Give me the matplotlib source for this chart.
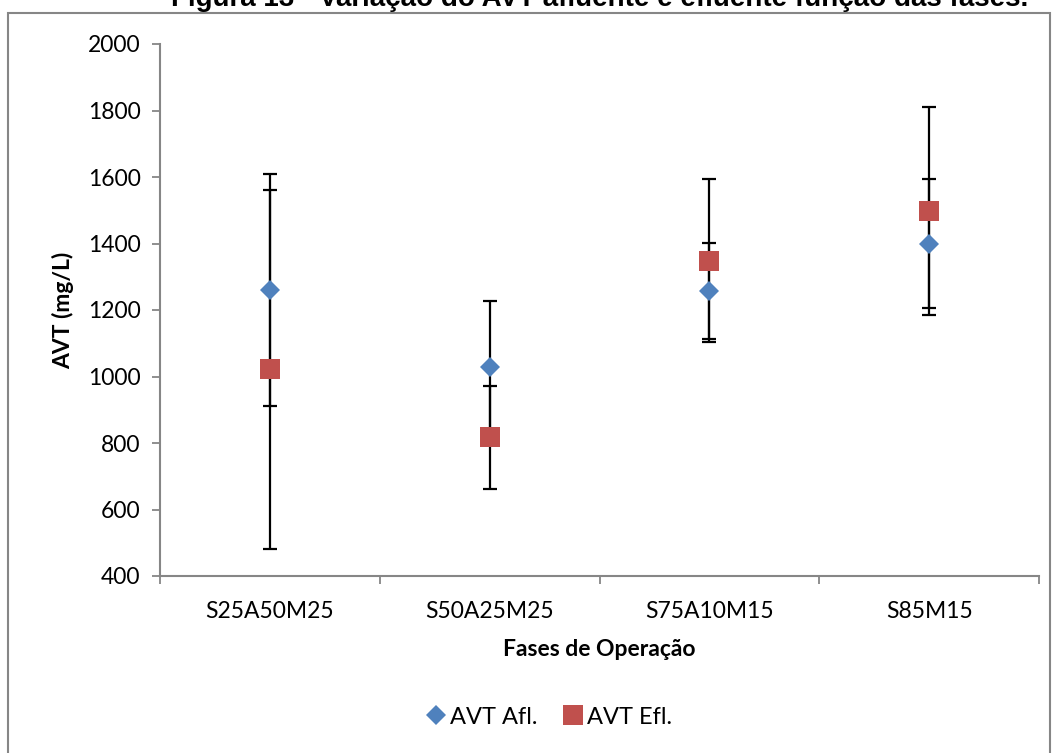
import matplotlib.pyplot as plt
from matplotlib.patches import Rectangle
import numpy as np

fases = ["S25A50M25", "S50A25M25", "S75A10M15", "S85M15"]

avt_afl = [1260, 1030, 1257, 1400]
avt_afl_dp = [350, 198, 145, 195]

avt_efl = [1022, 817, 1348, 1497]
avt_efl_dp = [540, 155, 245, 313]

plt.rcParams['font.family'] = ['Lato', 'DejaVu Sans']

fig = plt.figure(figsize=(10.53, 7.53), dpi=100)
W, H = 1053, 753

# moldura do grafico
fig.patches.append(Rectangle((7.5 / W, -0.05), (1050 - 7.5) / W, 1.05 - 13 / H,
                             transform=fig.transFigure, fill=False,
                             edgecolor='#868686', linewidth=1.5))

fig.text(600 / W, 1 + 1 / H, "Figura 13 - Variação do AVT afluente e efluente função das fases.",
         family='Liberation Sans', fontweight='bold', fontsize=20, ha='center', va='center')

ax = fig.add_axes([160 / W, 177 / H, 879 / W, 532 / H])

x = np.arange(len(fases))

ax.errorbar(x, avt_afl, yerr=avt_afl_dp, fmt='none', ecolor='black',
            elinewidth=1.6, capsize=4.8, capthick=1.6, zorder=2)
ax.errorbar(x, avt_efl, yerr=avt_efl_dp, fmt='none', ecolor='black',
            elinewidth=1.6, capsize=4.8, capthick=1.6, zorder=2)

ax.plot(x, avt_afl, 'D', color='#4F81BD', markersize=10.3, markeredgewidth=0,
        linestyle='none', label="AVT Afl.", zorder=3)
ax.plot(x, avt_efl, 's', color='#C0504D', markersize=14.5, markeredgewidth=0,
        linestyle='none', label="AVT Efl.", zorder=3)

ax.set_xlim(-0.5, 3.5)
ax.set_ylim(400, 2000)
ax.set_yticks(np.arange(400, 2001, 200))

# categorias no centro, marcas de divisao entre elas
ax.set_xticks(x)
ax.set_xticklabels(fases)
ax.set_xticks(np.arange(-0.5, 3.6, 1), minor=True)
ax.tick_params(axis='x', which='major', length=0, pad=18, labelsize=16.5)
ax.tick_params(axis='x', which='minor', length=6, width=1.3, color='#868686')
ax.tick_params(axis='y', length=6, width=1.3, color='#868686', pad=8, labelsize=16.5)

for s in ['top', 'right']:
    ax.spines[s].set_visible(False)
for s in ['left', 'bottom']:
    ax.spines[s].set_color('#868686')
    ax.spines[s].set_linewidth(1.5)

ax.set_xlabel("Fases de Operação", fontweight='bold', fontsize=16.5, labelpad=12)
ax.set_ylabel("AVT (mg/L)", fontweight='bold', fontsize=16.5, labelpad=10)

fig.legend(loc='center', bbox_to_anchor=(548 / W, 1 - 717 / H), ncol=2, frameon=False,
           fontsize=17, handletextpad=0.1, columnspacing=1.0, handlelength=1.0,
           markerscale=1.0)

fig.savefig("out.png", dpi=100)
